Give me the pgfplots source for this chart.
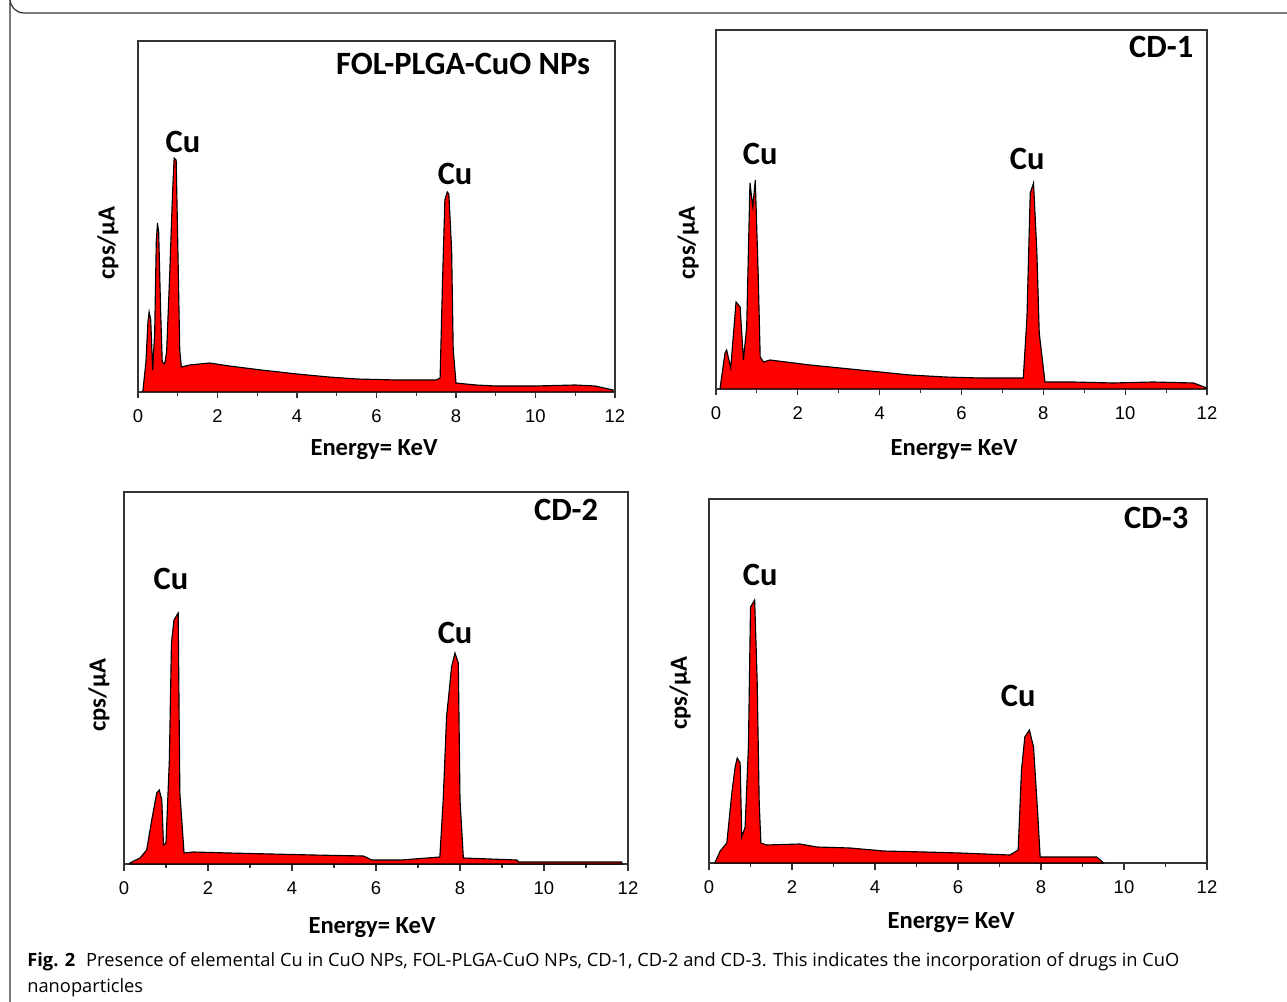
\documentclass[border=0pt]{standalone}
\usepackage{fontspec}
\setmainfont{Carlito}
\newfontfamily\tickfont{Liberation Sans}
\newfontfamily\capfont{Open Sans}
\usepackage{pgfplots}
\pgfplotsset{compat=1.18}

% one spectrum panel: box, x ticks at bottom only, no y ticks
\pgfplotsset{eds/.style={
    scale only axis, anchor=south west,
    xmin=0, xmax=12, ymin=0,
    xtick={0,2,...,12}, minor xtick={1,3,...,11},
    ytick=\empty, xtick pos=bottom, tick align=outside,
    major tick length=0.13cm, minor tick length=0.08cm,
    axis line style={line width=0.8pt, black!80},
    every tick/.style={black!80, line width=0.6pt},
    xticklabel style={font=\tickfont\fontsize{10.5}{12}\selectfont, yshift=-3pt},
    /pgf/number format/assume math mode=true,
}}
\tikzset{spec/.style={draw=black, line width=0.65pt, fill=red}}

\begin{document}
\begin{tikzpicture}
\path[use as bounding box] (0,0) rectangle (25.74,-20.04);

% === FOL-PLGA-CuO NPs ===
\begin{axis}[eds, at={(2.76cm,-7.84cm)}, width=9.54cm, height=7.02cm, ymax=351]
\addplot[spec] coordinates {
 (0.12,0) (0.2,30) (0.25,70) (0.28,80) (0.32,72) (0.37,22) (0.42,60) (0.46,150)
 (0.49,169) (0.52,160) (0.57,80) (0.61,30) (0.67,28) (0.72,40) (0.8,120) (0.87,200)
 (0.91,234) (0.96,232) (1.0,150) (1.05,42) (1.09,25) (1.3,27) (1.8,29) (2.3,26)
 (3.1,22) (4.0,18) (4.8,15) (5.5,13) (6.5,12) (7.5,12) (7.6,14) (7.66,109) (7.72,192)
 (7.78,200) (7.82,198) (7.89,142) (7.93,42) (8.0,9) (8.5,7) (9,6) (10,6) (11,7)
 (11.5,6) (11.95,2)} \closedcycle;
\end{axis}

% === CD-1 ===
\begin{axis}[eds, at={(14.32cm,-7.78cm)}, width=9.82cm, height=7.18cm, ymax=359]
\addplot[spec] coordinates {
 (0.1,1) (0.22,36) (0.26,39) (0.36,21) (0.49,87) (0.59,82) (0.67,29) (0.75,62)
 (0.83,206) (0.9,182) (0.96,209) (1.03,116) (1.08,32) (1.16,27) (1.32,29) (2.3,24)
 (3.52,19) (4.74,14) (5.6,12) (6.45,11) (7.51,11) (7.6,72) (7.68,196) (7.76,206)
 (7.84,139) (7.9,56) (8.04,7) (8.73,7) (9.7,6) (10.68,7) (11.67,6) (12,1)} \closedcycle;
\end{axis}

% === CD-2 ===
\begin{axis}[eds, at={(2.48cm,-17.28cm)}, width=10.08cm, height=7.44cm, ymax=372]
\addplot[spec] coordinates {
 (0.14,1) (0.38,6) (0.54,14) (0.66,44) (0.78,71) (0.84,74) (0.9,64) (0.94,19)
 (1.0,21) (1.08,104) (1.13,221) (1.19,244) (1.29,251) (1.33,71) (1.37,47) (1.43,11)
 (1.65,12) (2.5,11) (3.5,10) (4.5,9) (5.7,8) (5.9,4) (6.6,4) (7.52,7) (7.6,64)
 (7.68,147) (7.8,197) (7.88,211) (7.96,201) (8.0,64) (8.08,6) (9.35,4) (9.4,2)
 (11.85,2) (11.86,0)} \closedcycle;
\end{axis}

% === CD-3 ===
\begin{axis}[eds, at={(14.18cm,-17.26cm)}, width=9.96cm, height=7.28cm, ymax=364]
\addplot[spec] coordinates {
 (0.14,0) (0.27,12) (0.43,20) (0.55,70) (0.63,96) (0.68,105) (0.75,100) (0.79,26)
 (0.87,36) (0.95,116) (1.0,256) (1.1,263) (1.16,183) (1.21,60) (1.25,20) (1.39,18)
 (2.19,19) (2.6,16) (3.4,15) (4.2,12) (5.2,11) (6.05,10) (7.25,8) (7.45,13) (7.53,93)
 (7.61,126) (7.72,133) (7.82,116) (7.92,50) (7.98,6) (8.48,6) (9.18,6) (9.34,6)
 (9.46,2) (9.5,0)} \closedcycle;
\end{axis}

\begin{scope}[x=0.02cm, y=-0.02cm]
% outer frame
\draw[black!80, line width=0.7pt] (1287,13) -- (24,13) arc[start angle=90, end angle=180, radius=14] -- (10,1002);

\begin{scope}[font=\bfseries\fontsize{18.5}{20}\selectfont]
\node at (463,64) {FOL-PLGA-CuO NPs};
\node at (1161,47) {CD-1};
\node at (566,510) {CD-2};
\node at (1156,518) {CD-3};
\node at (183,142) {Cu};
\node at (455,174) {Cu};
\node at (760,154) {Cu};
\node at (1027,159) {Cu};
\node at (171,579) {Cu};
\node at (455,633) {Cu};
\node at (760,575) {Cu};
\node at (1018,696) {Cu};
\end{scope}

\begin{scope}[font=\bfseries\fontsize{14}{16}\selectfont]
\node at (374,450) {Energy= KeV};
\node at (954,450) {Energy= KeV};
\node at (372,927) {Energy= KeV};
\node at (951,922) {Energy= KeV};
\node[rotate=90] at (108,243) {cps/μA};
\node[rotate=90] at (688,243) {cps/μA};
\node[rotate=90] at (99,695) {cps/μA};
\node[rotate=90] at (680,693) {cps/μA};
\end{scope}

\begin{scope}[font=\capfont\fontsize{10.4}{12}\selectfont]
\node[anchor=base west, inner sep=0pt] at (27,966) {\textbf{Fig. 2}\hspace{0.6em}Presence of elemental Cu in CuO NPs, FOL-PLGA-CuO NPs, CD-1, CD-2 and CD-3. This indicates the incorporation of drugs in CuO};
\node[anchor=base west, inner sep=0pt] at (27,992) {nanoparticles};
\end{scope}
\end{scope}
\end{tikzpicture}
\end{document}
